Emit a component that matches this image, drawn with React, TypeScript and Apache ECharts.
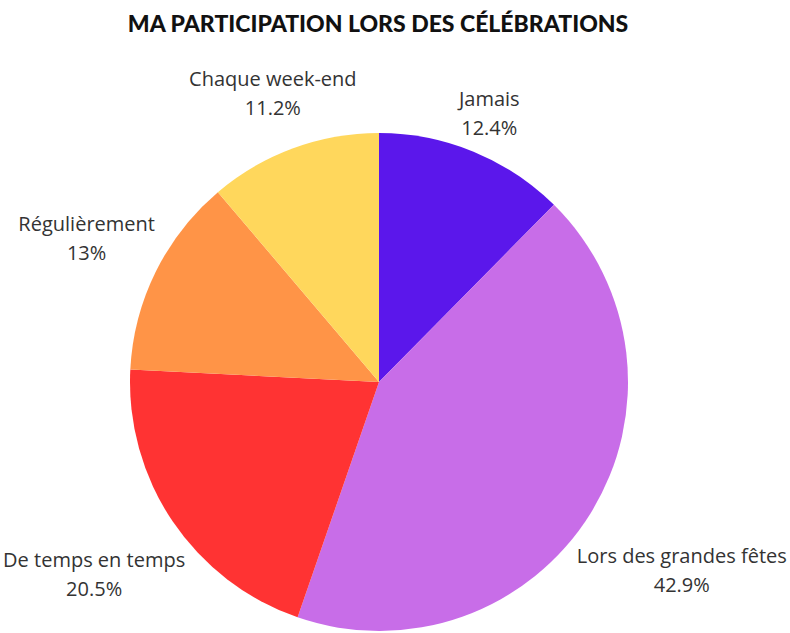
import React, { useEffect, useRef } from "react";
import * as echarts from "echarts";

const titleText = "MA PARTICIPATION LORS DES CÉLÉBRATIONS";
const categories = ["Jamais", "Lors des grandes fêtes", "De temps en temps", "Régulièrement", "Chaque week-end"];
const values = [12.4, 42.9, 20.5, 13, 11.2];
const colors = ["#5B17EB", "#C86DE8", "#FF3333", "#FF9447", "#FFD75C"];

const CX = 379;
const CY = 382;
const R = 249;
const GAP = 3;
const LABEL_FONT = "20px 'Open Sans'";
const LINE_H = 29;

export default function App() {
  const ref = useRef<HTMLDivElement>(null);
  useEffect(() => {
    if (!ref.current) return;
    const chart = echarts.init(ref.current, null, { renderer: "svg" });
    const total = values.reduce((a, b) => a + b, 0);
    const mids: number[] = [];
    let acc = 0;
    values.forEach((v) => {
      mids.push(((acc + v / 2) / total) * Math.PI * 2);
      acc += v;
    });
    const ctx = document.createElement("canvas").getContext("2d")!;
    ctx.font = LABEL_FONT;
    const widths = categories.map((c, i) =>
      Math.max(ctx.measureText(c).width, ctx.measureText(values[i] + "%").width)
    );
    chart.setOption({
      animation: false,
      backgroundColor: "#ffffff",
      title: {
        text: titleText,
        left: 373,
        top: 6,
        textAlign: "center",
        textStyle: { fontFamily: "Lato", fontWeight: 900, fontSize: 23, color: "#111111" },
      },
      series: [
        {
          type: "pie",
          center: [CX, CY],
          radius: R,
          startAngle: 90,
          clockwise: true,
          data: categories.map((name, i) => ({ name, value: values[i], itemStyle: { color: colors[i] } })),
          label: {
            show: true,
            position: "outside",
            formatter: "{b}\n{c}%",
            fontFamily: "Open Sans",
            fontSize: 20,
            lineHeight: LINE_H,
            color: "#333333",
            align: "center",
            overflow: "none",
            width: 400,
          },
          labelLine: { show: false },
          labelLayout: (params: any) => {
            const i = params.dataIndex;
            const a = mids[i];
            const sx = Math.sin(a);
            const sy = -Math.cos(a);
            const w = widths[i];
            const h = LINE_H * 2;
            const d = R + GAP + (w / 2) * Math.abs(sx) + (h / 2) * Math.abs(sy);
            return { x: CX + d * sx, y: CY + d * sy, align: "center", verticalAlign: "middle" };
          },
        },
      ],
    });
    return () => chart.dispose();
  }, []);
  return <div ref={ref} style={{ position: "absolute", left: 0, top: 0, width: 790, height: 633 }} />;
}
